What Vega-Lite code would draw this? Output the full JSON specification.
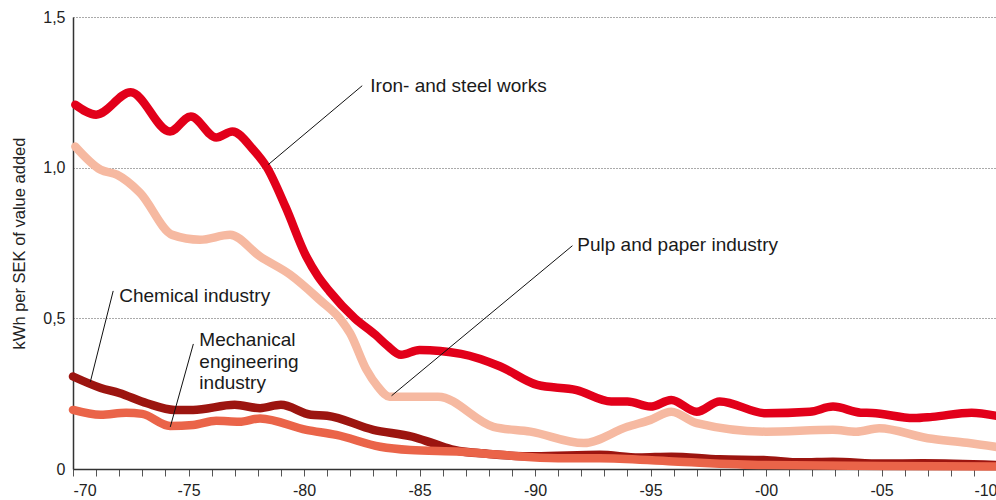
{
  "$schema": "https://vega.github.io/schema/vega-lite/v6.json",
  "width": 924,
  "height": 452,
  "autosize": {"type": "none"},
  "padding": {"left": 73, "top": 17, "right": 0, "bottom": 31},
  "config": {"view": {"stroke": null}, "font": "Liberation Sans"},
  "datasets": {
    "lines": [
      {"series": "Pulp and paper industry", "year": 1970.1, "value": 1.07},
      {"series": "Pulp and paper industry", "year": 1971.2, "value": 0.993},
      {"series": "Pulp and paper industry", "year": 1971.9, "value": 0.977},
      {"series": "Pulp and paper industry", "year": 1972.9, "value": 0.917},
      {"series": "Pulp and paper industry", "year": 1974.3, "value": 0.777},
      {"series": "Pulp and paper industry", "year": 1975.5, "value": 0.761},
      {"series": "Pulp and paper industry", "year": 1976.8, "value": 0.777},
      {"series": "Pulp and paper industry", "year": 1978.1, "value": 0.705},
      {"series": "Pulp and paper industry", "year": 1979.4, "value": 0.645},
      {"series": "Pulp and paper industry", "year": 1980.7, "value": 0.56},
      {"series": "Pulp and paper industry", "year": 1981.6, "value": 0.495},
      {"series": "Pulp and paper industry", "year": 1982.0, "value": 0.45},
      {"series": "Pulp and paper industry", "year": 1982.7, "value": 0.33},
      {"series": "Pulp and paper industry", "year": 1983.2, "value": 0.273},
      {"series": "Pulp and paper industry", "year": 1983.7, "value": 0.24},
      {"series": "Pulp and paper industry", "year": 1985.8, "value": 0.24},
      {"series": "Pulp and paper industry", "year": 1988.2, "value": 0.14},
      {"series": "Pulp and paper industry", "year": 1989.8, "value": 0.124},
      {"series": "Pulp and paper industry", "year": 1992.1, "value": 0.086},
      {"series": "Pulp and paper industry", "year": 1994.0, "value": 0.14},
      {"series": "Pulp and paper industry", "year": 1995.0, "value": 0.163},
      {"series": "Pulp and paper industry", "year": 1995.9, "value": 0.19},
      {"series": "Pulp and paper industry", "year": 1997.0, "value": 0.152},
      {"series": "Pulp and paper industry", "year": 2000.0, "value": 0.124},
      {"series": "Pulp and paper industry", "year": 2002.9, "value": 0.13},
      {"series": "Pulp and paper industry", "year": 2003.9, "value": 0.124},
      {"series": "Pulp and paper industry", "year": 2004.9, "value": 0.135},
      {"series": "Pulp and paper industry", "year": 2007.0, "value": 0.102},
      {"series": "Pulp and paper industry", "year": 2008.7, "value": 0.087},
      {"series": "Pulp and paper industry", "year": 2010.0, "value": 0.073},

      {"series": "Iron- and steel works", "year": 1970.1, "value": 1.209},
      {"series": "Iron- and steel works", "year": 1971.0, "value": 1.176},
      {"series": "Iron- and steel works", "year": 1972.5, "value": 1.25},
      {"series": "Iron- and steel works", "year": 1974.2, "value": 1.12},
      {"series": "Iron- and steel works", "year": 1975.1, "value": 1.17},
      {"series": "Iron- and steel works", "year": 1976.2, "value": 1.1},
      {"series": "Iron- and steel works", "year": 1976.9, "value": 1.12},
      {"series": "Iron- and steel works", "year": 1977.8, "value": 1.06},
      {"series": "Iron- and steel works", "year": 1978.4, "value": 1.0},
      {"series": "Iron- and steel works", "year": 1979.2, "value": 0.87},
      {"series": "Iron- and steel works", "year": 1980.1, "value": 0.705},
      {"series": "Iron- and steel works", "year": 1980.6, "value": 0.64},
      {"series": "Iron- and steel works", "year": 1981.1, "value": 0.59},
      {"series": "Iron- and steel works", "year": 1982.2, "value": 0.5},
      {"series": "Iron- and steel works", "year": 1983.1, "value": 0.445},
      {"series": "Iron- and steel works", "year": 1983.6, "value": 0.41},
      {"series": "Iron- and steel works", "year": 1984.2, "value": 0.379},
      {"series": "Iron- and steel works", "year": 1985.0, "value": 0.395},
      {"series": "Iron- and steel works", "year": 1986.8, "value": 0.382},
      {"series": "Iron- and steel works", "year": 1988.5, "value": 0.34},
      {"series": "Iron- and steel works", "year": 1990.1, "value": 0.279},
      {"series": "Iron- and steel works", "year": 1991.8, "value": 0.262},
      {"series": "Iron- and steel works", "year": 1993.3, "value": 0.224},
      {"series": "Iron- and steel works", "year": 1994.0, "value": 0.224},
      {"series": "Iron- and steel works", "year": 1995.0, "value": 0.207},
      {"series": "Iron- and steel works", "year": 1995.9, "value": 0.229},
      {"series": "Iron- and steel works", "year": 1997.0, "value": 0.19},
      {"series": "Iron- and steel works", "year": 1998.0, "value": 0.224},
      {"series": "Iron- and steel works", "year": 2000.0, "value": 0.185},
      {"series": "Iron- and steel works", "year": 2001.9, "value": 0.19},
      {"series": "Iron- and steel works", "year": 2002.9, "value": 0.207},
      {"series": "Iron- and steel works", "year": 2004.1, "value": 0.187},
      {"series": "Iron- and steel works", "year": 2004.6, "value": 0.186},
      {"series": "Iron- and steel works", "year": 2006.4, "value": 0.169},
      {"series": "Iron- and steel works", "year": 2007.2, "value": 0.173},
      {"series": "Iron- and steel works", "year": 2008.9, "value": 0.187},
      {"series": "Iron- and steel works", "year": 2010.0, "value": 0.176},

      {"series": "Chemical industry", "year": 1970.0, "value": 0.307},
      {"series": "Chemical industry", "year": 1971.2, "value": 0.269},
      {"series": "Chemical industry", "year": 1972.0, "value": 0.252},
      {"series": "Chemical industry", "year": 1973.2, "value": 0.218},
      {"series": "Chemical industry", "year": 1974.4, "value": 0.196},
      {"series": "Chemical industry", "year": 1975.2, "value": 0.196},
      {"series": "Chemical industry", "year": 1977.0, "value": 0.213},
      {"series": "Chemical industry", "year": 1978.1, "value": 0.202},
      {"series": "Chemical industry", "year": 1979.0, "value": 0.213},
      {"series": "Chemical industry", "year": 1980.3, "value": 0.18},
      {"series": "Chemical industry", "year": 1981.0, "value": 0.177},
      {"series": "Chemical industry", "year": 1983.0, "value": 0.13},
      {"series": "Chemical industry", "year": 1984.7, "value": 0.107},
      {"series": "Chemical industry", "year": 1985.6, "value": 0.085},
      {"series": "Chemical industry", "year": 1986.5, "value": 0.063},
      {"series": "Chemical industry", "year": 1988.0, "value": 0.05},
      {"series": "Chemical industry", "year": 1990.0, "value": 0.042},
      {"series": "Chemical industry", "year": 1992.8, "value": 0.047},
      {"series": "Chemical industry", "year": 1994.5, "value": 0.038},
      {"series": "Chemical industry", "year": 1995.9, "value": 0.041},
      {"series": "Chemical industry", "year": 1998.0, "value": 0.032},
      {"series": "Chemical industry", "year": 1999.9, "value": 0.03},
      {"series": "Chemical industry", "year": 2001.5, "value": 0.022},
      {"series": "Chemical industry", "year": 2002.9, "value": 0.024},
      {"series": "Chemical industry", "year": 2005.0, "value": 0.018},
      {"series": "Chemical industry", "year": 2006.8, "value": 0.019},
      {"series": "Chemical industry", "year": 2010.0, "value": 0.013},

      {"series": "Mechanical engineering industry", "year": 1970.0, "value": 0.196},
      {"series": "Mechanical engineering industry", "year": 1971.2, "value": 0.18},
      {"series": "Mechanical engineering industry", "year": 1972.3, "value": 0.187},
      {"series": "Mechanical engineering industry", "year": 1973.0, "value": 0.183},
      {"series": "Mechanical engineering industry", "year": 1974.2, "value": 0.143},
      {"series": "Mechanical engineering industry", "year": 1975.2, "value": 0.146},
      {"series": "Mechanical engineering industry", "year": 1976.2, "value": 0.16},
      {"series": "Mechanical engineering industry", "year": 1977.2, "value": 0.157},
      {"series": "Mechanical engineering industry", "year": 1978.1, "value": 0.168},
      {"series": "Mechanical engineering industry", "year": 1980.1, "value": 0.13},
      {"series": "Mechanical engineering industry", "year": 1981.4, "value": 0.113},
      {"series": "Mechanical engineering industry", "year": 1983.3, "value": 0.074},
      {"series": "Mechanical engineering industry", "year": 1984.6, "value": 0.063},
      {"series": "Mechanical engineering industry", "year": 1986.8, "value": 0.057},
      {"series": "Mechanical engineering industry", "year": 1988.5, "value": 0.047},
      {"series": "Mechanical engineering industry", "year": 1991.0, "value": 0.036},
      {"series": "Mechanical engineering industry", "year": 1992.8, "value": 0.036},
      {"series": "Mechanical engineering industry", "year": 1996.0, "value": 0.025},
      {"series": "Mechanical engineering industry", "year": 2000.0, "value": 0.013},
      {"series": "Mechanical engineering industry", "year": 2005.0, "value": 0.01},
      {"series": "Mechanical engineering industry", "year": 2010.0, "value": 0.008}
    ],
    "leaders": [
      {"year": 1982.52, "value": 1.272, "year2": 1978.45, "value2": 1.01},
      {"year": 1991.62, "value": 0.741, "year2": 1983.79, "value2": 0.243},
      {"year": 1971.74, "value": 0.591, "year2": 1970.75, "value2": 0.289},
      {"year": 1975.21, "value": 0.415, "year2": 1974.21, "value2": 0.1395}
    ],
    "labels": [
      {"year": 1982.87, "value": 1.272, "label": "Iron- and steel works"},
      {"year": 1991.83, "value": 0.744, "label": "Pulp and paper industry"},
      {"year": 1972.0, "value": 0.575, "label": "Chemical industry"},
      {"year": 1975.47, "value": 0.4286, "label": "Mechanical"},
      {"year": 1975.47, "value": 0.3555, "label": "engineering"},
      {"year": 1975.47, "value": 0.2857, "label": "industry"}
    ]
  },
  "encoding": {
    "x": {
      "field": "year", "type": "quantitative",
      "scale": {"domain": [1970, 2010], "nice": false, "zero": false},
      "axis": {
        "title": null,
        "grid": false,
        "values": [1970,1971,1972,1973,1974,1975,1976,1977,1978,1979,1980,1981,1982,1983,1984,1985,1986,1987,1988,1989,1990,1991,1992,1993,1994,1995,1996,1997,1998,1999,2000,2001,2002,2003,2004,2005,2006,2007,2008,2009,2010],
        "labelExpr": "datum.value % 5 == 0 ? '-' + slice(toString(100 + datum.value % 100), 1) : ''",
        "tickSize": 7,
        "tickColor": "#555555",
        "domainColor": "#333333",
        "domainWidth": 1.5,
        "labelFontSize": 16,
        "labelColor": "#222222",
        "labelPadding": 6,
        "labelFlush": true,
        "labelOverlap": false,
        "labelBound": false
      }
    },
    "y": {
      "field": "value", "type": "quantitative",
      "scale": {"domain": [0, 1.5], "nice": false},
      "axis": {
        "values": [0, 0.5, 1, 1.5],
        "labelExpr": "datum.value == 0 ? '0' : replace(format(datum.value, '.1f'), '.', ',')",
        "grid": true,
        "gridDash": [1, 2],
        "gridColor": "#555555",
        "ticks": false,
        "domainColor": "#333333",
        "domainWidth": 1.5,
        "labelFontSize": 16,
        "labelColor": "#222222",
        "labelPadding": 8,
        "title": "kWh per SEK of value added",
        "titleFontSize": 16.5,
        "titleFontWeight": "normal",
        "titleColor": "#222222",
        "titlePadding": 15
      }
    }
  },
  "layer": [
    {
      "data": {"name": "lines"},
      "mark": {"type": "line", "interpolate": "monotone", "strokeWidth": 8.5, "strokeCap": "round", "strokeJoin": "round"},
      "encoding": {
        "color": {
          "field": "series", "type": "nominal",
          "scale": {
            "domain": ["Pulp and paper industry", "Iron- and steel works", "Chemical industry", "Mechanical engineering industry"],
            "range": ["#f6b9a1", "#e2001a", "#9c1510", "#ea6449"]
          },
          "legend": null
        }
      }
    },
    {
      "data": {"name": "leaders"},
      "mark": {"type": "rule", "color": "#111111", "strokeWidth": 1},
      "encoding": {
        "x2": {"field": "year2"},
        "y2": {"field": "value2"}
      }
    },
    {
      "data": {"name": "labels"},
      "mark": {"type": "text", "align": "left", "baseline": "middle", "fontSize": 19, "color": "#1a1a1a"},
      "encoding": {
        "text": {"field": "label"}
      }
    }
  ]
}
